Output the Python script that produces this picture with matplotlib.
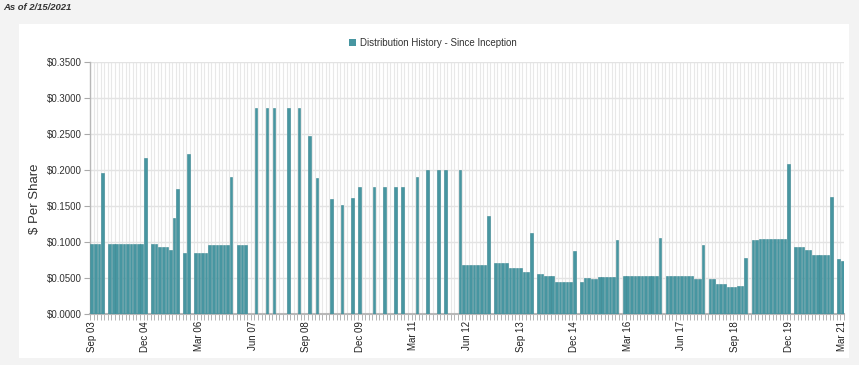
import matplotlib
matplotlib.use('Agg')
import matplotlib.pyplot as plt
import numpy as np
import pandas as pd
from matplotlib.patches import Rectangle, Patch

plt.rcParams['font.family'] = ['Liberation Sans', 'DejaVu Sans']

# ---------------- data ----------------
months = pd.period_range('2003-09', '2021-03', freq='M')
N = None
values = [
    # 2003 Sep-Dec
    0.0975, 0.0975, 0.0975, 0.1965,
    # 2004
    N, 0.0975, 0.0975, 0.0975, 0.0975, 0.0975, 0.0975, 0.0975, 0.0975, 0.0975, 0.0975, 0.2162,
    # 2005
    N, 0.0975, 0.0975, 0.0935, 0.0935, 0.0935, 0.0890, 0.1330, 0.1736, N, 0.0850, 0.2220,
    # 2006
    N, 0.0850, 0.0850, 0.0850, 0.0850, 0.0960, 0.0960, 0.0960, 0.0960, 0.0960, 0.0960, 0.1900,
    # 2007
    N, 0.0960, 0.0960, 0.0960, N, N, 0.2857, N, N, 0.2857, N, 0.2857,
    # 2008
    N, N, N, 0.2857, N, N, 0.2857, N, N, 0.2477, N, 0.1884,
    # 2009
    N, N, N, 0.1600, N, N, 0.1510, N, N, 0.1607, N, 0.1760,
    # 2010
    N, N, N, 0.1760, N, N, 0.1760, N, N, 0.1760, N, 0.1760,
    # 2011
    N, N, N, 0.1907, N, N, 0.2000, N, N, 0.2000, N, 0.2000,
    # 2012
    N, N, N, 0.2000, 0.0680, 0.0680, 0.0680, 0.0680, 0.0680, 0.0680, 0.0680, 0.1360,
    # 2013
    N, 0.0704, 0.0704, 0.0704, 0.0704, 0.0634, 0.0634, 0.0634, 0.0634, 0.0580, 0.0580, 0.1130,
    # 2014
    N, 0.0556, 0.0556, 0.0528, 0.0528, 0.0528, 0.0444, 0.0444, 0.0444, 0.0444, 0.0444, 0.0875,
    # 2015
    N, 0.0444, 0.0495, 0.0495, 0.0490, 0.0490, 0.0510, 0.0510, 0.0510, 0.0510, 0.0510, 0.1028,
    # 2016
    N, 0.0528, 0.0528, 0.0528, 0.0528, 0.0528, 0.0528, 0.0528, 0.0528, 0.0528, 0.0528, 0.1050,
    # 2017
    N, 0.0528, 0.0528, 0.0528, 0.0528, 0.0528, 0.0528, 0.0528, 0.0528, 0.0486, 0.0486, 0.0960,
    # 2018
    N, 0.0486, 0.0486, 0.0417, 0.0417, 0.0417, 0.0375, 0.0375, 0.0375, 0.0389, 0.0389, 0.0782,
    # 2019
    N, 0.1023, 0.1030, 0.1037, 0.1037, 0.1037, 0.1037, 0.1037, 0.1037, 0.1037, 0.1037, 0.2083,
    # 2020
    N, 0.0930, 0.0930, 0.0930, 0.0890, 0.0890, 0.0820, 0.0820, 0.0820, 0.0820, 0.0820, 0.1630,
    # 2021
    N, 0.0769, 0.0736,
]
tick_labels = ['Sep 03', 'Dec 04', 'Mar 06', 'Jun 07', 'Sep 08', 'Dec 09', 'Mar 11',
               'Jun 12', 'Sep 13', 'Dec 14', 'Mar 16', 'Jun 17', 'Sep 18', 'Dec 19', 'Mar 21']
y_ticks = [0.0, 0.05, 0.10, 0.15, 0.20, 0.25, 0.30, 0.35]
series_name = 'Distribution History - Since Inception'
as_of = 'As of 2/15/2021'

# ---------------- figure ----------------
W, H = 859, 365
fig = plt.figure(figsize=(W / 100, H / 100), dpi=100)
fig.patch.set_facecolor('#f3f3f3')
fig.add_artist(Rectangle((19 / W, 1 - 358 / H), 830 / W, 334 / H, transform=fig.transFigure,
                         facecolor='white', edgecolor='none', zorder=0))

ax = fig.add_axes([90 / W, 1 - 314 / H, 754 / W, 252 / H])
ax.set_facecolor('white')

x = np.arange(len(months))
vals = np.array([np.nan if v is None else v for v in values], dtype=float)
bar_color = '#4796a1'
ax.bar(x, vals, width=0.74, color=bar_color, edgecolor='#3a8792', linewidth=0.4, zorder=3)

ax.set_xlim(-0.5, len(months) - 0.5)
ax.set_ylim(0, 0.35)

# y axis
ax.set_yticks(y_ticks)
ax.set_yticklabels([f'${v:.4f}' for v in y_ticks], fontsize=7, color='#333333')
ax.yaxis.grid(True, color='#e3e3e3', linewidth=1.0, zorder=0)
ax.tick_params(axis='y', length=4, color='#aaaaaa', pad=2)

# x axis
month_labels = list(months.strftime('%b %y'))
tick_pos = [month_labels.index(t) for t in tick_labels]
ax.set_xticks(tick_pos)
ax.set_xticklabels(tick_labels, rotation=90, fontsize=7, color='#222222')
ax.tick_params(axis='x', which='major', length=0, pad=5)
ax.set_xticks(np.arange(-0.5, len(months), 1), minor=True)
ax.tick_params(axis='x', which='minor', length=4, color='#a8a8a8', width=0.6)
ax.xaxis.grid(True, which='minor', color='#e8e8e8', linewidth=0.8, zorder=0)
ax.set_axisbelow(True)

for s in ['top', 'right']:
    ax.spines[s].set_visible(False)
ax.spines['left'].set_color('#b8b8b8')
ax.spines['left'].set_linewidth(1.0)
ax.spines['bottom'].set_color('#b8b8b8')
ax.spines['bottom'].set_linewidth(1.5)

fig.text(35 / W, 1 - 199 / H, '$ Per Share', rotation=90, fontsize=9.5, color='#333333',
         ha='center', va='center')

leg = ax.legend(handles=[Patch(facecolor=bar_color, edgecolor='none', label=series_name)],
                loc='center', bbox_to_anchor=(433 / W, 1 - 43 / H), bbox_transform=fig.transFigure,
                frameon=False, fontsize=7, handlelength=0.75, handleheight=0.75, handletextpad=0.4)
for t in leg.get_texts():
    t.set_color('#333333')

fig.text(3 / W, 1 - 8 / H, as_of, fontsize=6.8, fontweight='bold', style='italic',
         color='#333333', ha='left', va='center')

fig.savefig('out.png', dpi=100, facecolor=fig.get_facecolor())
